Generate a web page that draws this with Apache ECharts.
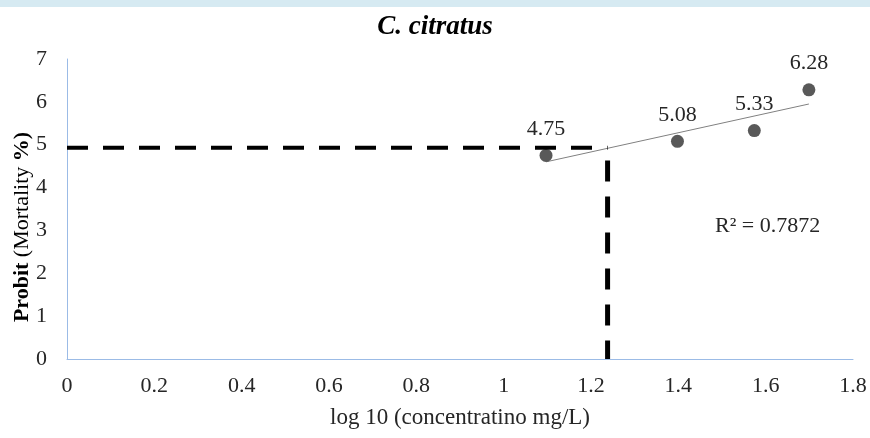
<!DOCTYPE html>
<html>
<head>
<meta charset="utf-8">
<script src="https://cdn.jsdelivr.net/npm/echarts@6/dist/echarts.min.js"></script>
<style>
  html, body { margin: 0; padding: 0; background: #fff; }
  #main { width: 870px; height: 438px; }
</style>
</head>
<body>
<div id="main"></div>
<script>
// log10 concentration vs probit mortality
var logConc = [1.097, 1.398, 1.574, 1.699];
var probit = [4.75, 5.08, 5.33, 6.28];

// trendline ends
var trendX = [1.097, 1.699];
var trendY = [4.6, 5.95];

// LC50 guide lines
var guideY = 4.93;
var guideX = 1.238;
var guideTop = 4.63;

var xTicks = { min: 0, max: 1.8, interval: 0.2 };
var yTicks = { min: 0, max: 7, interval: 1 };
var r2Text = 'R² = 0.7872';

var serif = "'Liberation Serif', 'Times New Roman', serif";
var axisBlue = '#9bbbe6';

var points = logConc.map(function (x, i) { return [x, probit[i]]; });
var trend = trendX.map(function (x, i) { return [x, trendY[i]]; });

var myChart = echarts.init(document.getElementById('main'));
var option = {
  animation: false,
  title: {
    text: 'C. citratus',
    left: 'center',
    top: 9,
    textStyle: {
      fontFamily: serif,
      fontSize: 27,
      fontStyle: 'italic',
      fontWeight: 'bold',
      color: '#000'
    }
  },
  grid: {
    left: 67,
    right: 17,
    top: 59,
    bottom: 79,
    containLabel: false,
    outerBoundsMode: 'none'
  },
  xAxis: {
    type: 'value',
    min: xTicks.min,
    max: xTicks.max,
    interval: xTicks.interval,
    name: 'log 10 (concentratino mg/L)',
    nameLocation: 'middle',
    nameGap: 47,
    nameMoveOverlap: false,
    nameTextStyle: { fontFamily: serif, fontSize: 23, color: '#262626' },
    axisLine: { show: true, lineStyle: { color: axisBlue, width: 1 } },
    axisTick: { show: false },
    splitLine: { show: false },
    axisLabel: { fontFamily: serif, fontSize: 22, color: '#262626', margin: 16 }
  },
  yAxis: {
    type: 'value',
    min: yTicks.min,
    max: yTicks.max,
    interval: yTicks.interval,
    name: '{b|Probit} (Mortality {b|%)}',
    nameLocation: 'middle',
    nameRotate: 90,
    nameGap: 34,
    nameMoveOverlap: false,
    nameTextStyle: {
      fontFamily: serif,
      fontSize: 22,
      color: '#000',
      padding: [0, 36, 0, 0],
      rich: {
        b: { fontFamily: serif, fontSize: 22, fontWeight: 'bold', color: '#000' }
      }
    },
    axisLine: { show: true, lineStyle: { color: axisBlue, width: 1 } },
    axisTick: { show: false },
    splitLine: { show: false },
    axisLabel: { fontFamily: serif, fontSize: 22, color: '#262626', margin: 20 }
  },
  graphic: [
    {
      type: 'rect',
      left: 0,
      top: 0,
      shape: { width: 870, height: 7 },
      style: { fill: '#d6eaf2' }
    },
    {
      type: 'text',
      left: 715,
      top: 215,
      style: { text: r2Text, font: '22px ' + serif, fill: '#262626' }
    }
  ],
  series: [
    {
      type: 'line',
      data: trend,
      showSymbol: false,
      silent: true,
      lineStyle: { color: '#808080', width: 1 },
      z: 2
    },
    {
      type: 'scatter',
      data: points,
      symbolSize: 13,
      itemStyle: { color: '#595959', opacity: 1 },
      label: {
        show: true,
        position: 'top',
        distance: 9,
        fontFamily: serif,
        fontSize: 22,
        color: '#262626',
        formatter: function (p) { return p.value[1].toFixed(2); }
      },
      z: 3
    },
    {
      type: 'line',
      data: [[xTicks.min, guideY], [guideX, guideY]],
      showSymbol: false,
      silent: true,
      lineStyle: { color: '#000', width: 4, type: [21, 15] },
      z: 4
    },
    {
      type: 'line',
      data: [[guideX, guideTop], [guideX, yTicks.min]],
      showSymbol: false,
      silent: true,
      lineStyle: { color: '#000', width: 5, type: [21, 15] },
      z: 4
    }
  ]
};
myChart.setOption(option);
window.onresize = function () {
  myChart.resize();
};
</script>
</body>
</html>
